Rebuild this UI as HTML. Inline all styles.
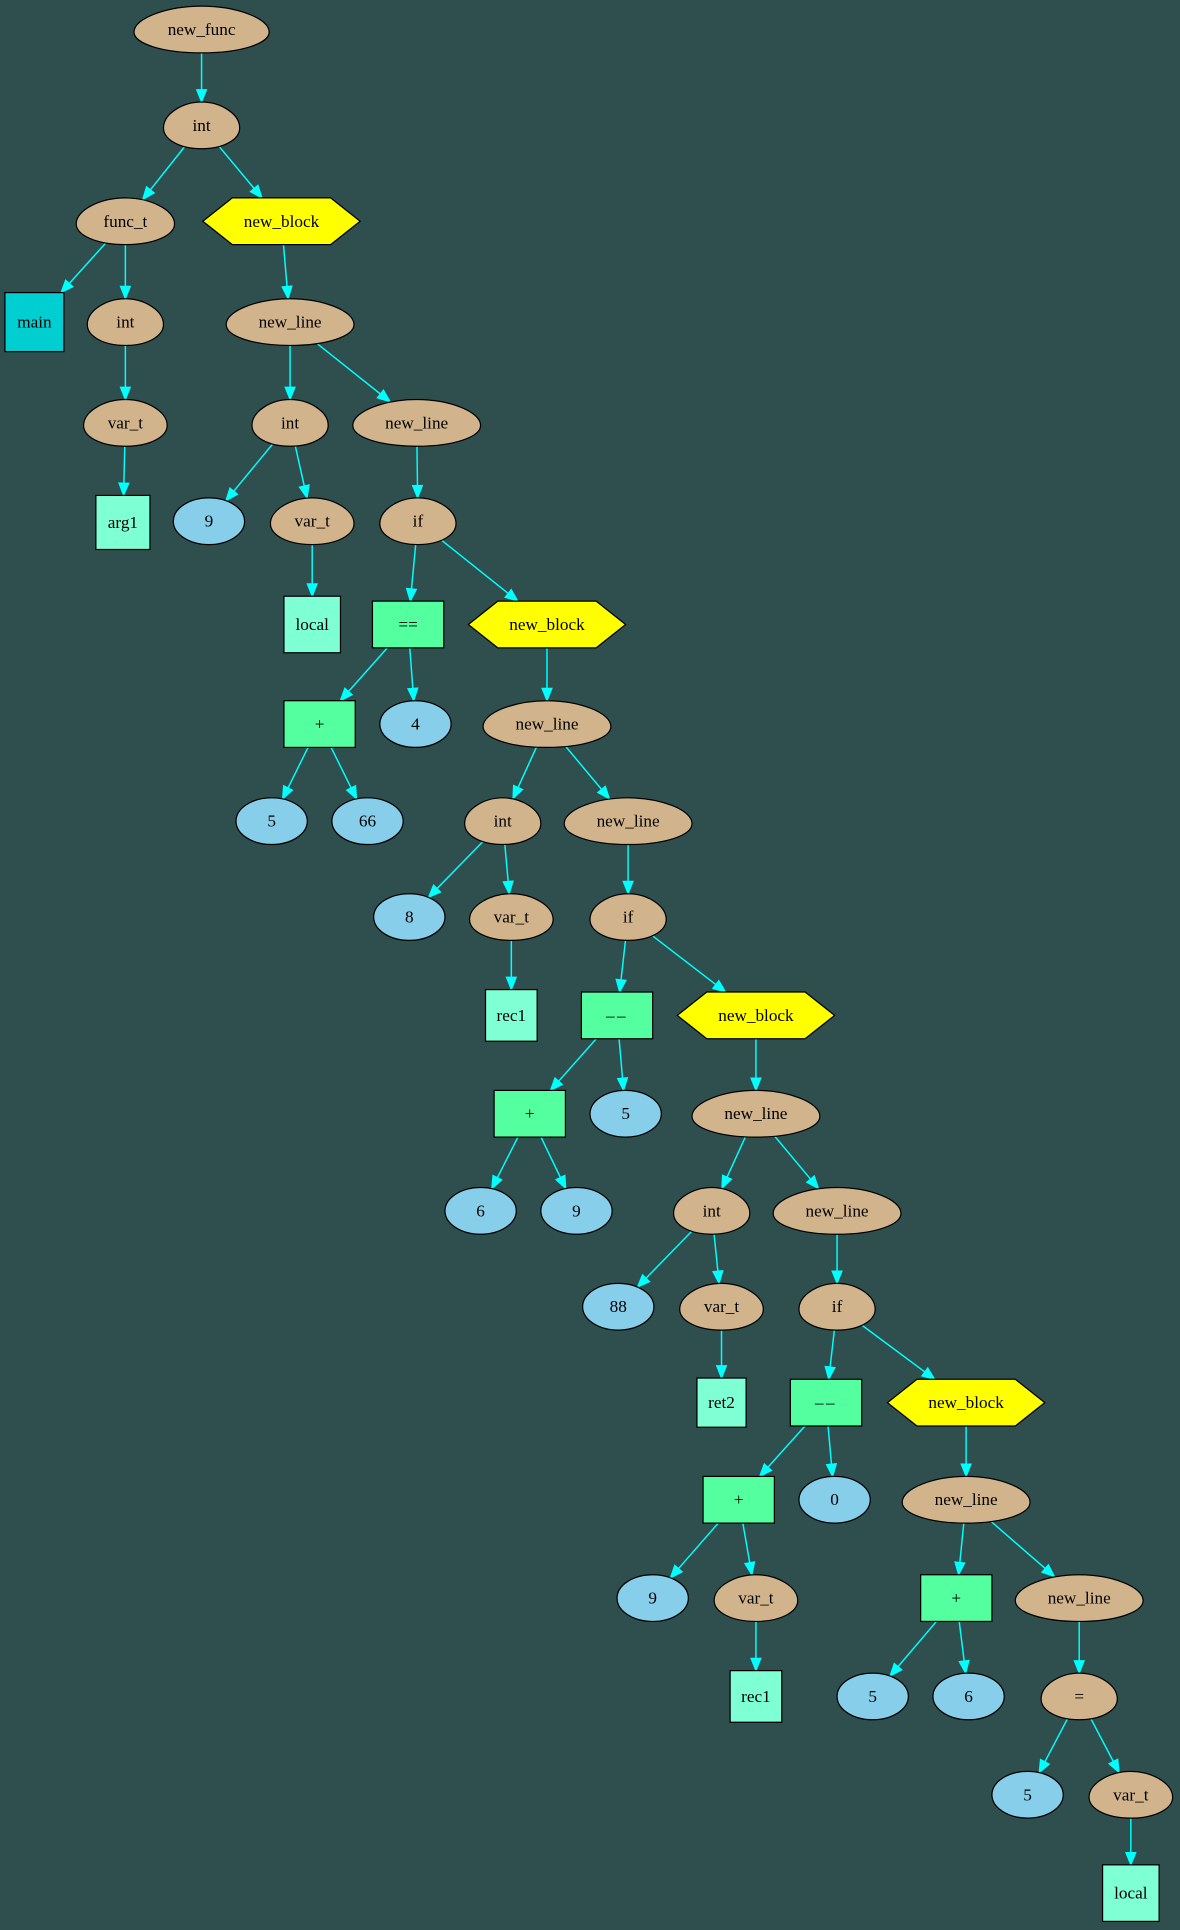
<!DOCTYPE html>
<html><head><meta charset="utf-8"><style>
html,body{margin:0;padding:0;background:#2f4f4f;}
svg{display:block;}
text{font-family:"Liberation Serif",serif;font-size:14px;text-anchor:middle;dominant-baseline:central;fill:#000;}
</style></head><body>
<svg id="g" width="1180" height="1930" viewBox="0 0 960 1570" preserveAspectRatio="none" xmlns="http://www.w3.org/2000/svg">
<rect width="960" height="1570" fill="#2f4f4f"/>
</svg>
<script>
var N={},E=[];
function n(id,t,x,y,l,w,h){N[id]={t:t,x:x,y:y,l:l,w:w,h:h};}
n(1,'e',164,24,'new_func',110,38);
n(2,'e',164,102,'int',62,38);
n(3,'e',102,180,'func_t',80,38);
n(4,'x',229,180,'new_block',128,38);
n(5,'c',28,262,'main',48,48);
n(6,'e',102,262,'int',62,38);
n(7,'e',102,344,'var_t',68,38);
n(8,'r',100,425,'arg1',44,44);
n(9,'e',236,262,'new_line',104,38);
n(10,'e',236,344,'int',62,38);
n(11,'e',339,344,'new_line',104,38);
n(12,'b',170,424,'9',58,38);
n(13,'e',254,424,'var_t',68,38);
n(14,'e',340,424,'if',62,38);
n(15,'r',254,508,'local',46,46);
n(16,'g',332,508,'==',58,38);
n(17,'x',445,508,'new_block',128,38);
n(18,'g',260,589,'+',58,38);
n(19,'b',338,589,'4',58,38);
n(20,'e',445,589,'new_line',104,38);
n(21,'b',221,668,'5',58,38);
n(22,'b',299,668,'66',58,38);
n(23,'e',409,668,'int',62,38);
n(24,'e',511,668,'new_line',104,38);
n(25,'b',333,746,'8',58,38);
n(26,'e',416,746,'var_t',68,38);
n(27,'e',511,746,'if',62,38);
n(28,'r',416,826,'rec1',42,42);
n(29,'g',502,826,'––',58,38);
n(30,'x',615,826,'new_block',128,38);
n(31,'g',431,906,'+',58,38);
n(32,'b',509,906,'5',58,38);
n(33,'e',615,906,'new_line',104,38);
n(34,'b',391,985,'6',58,38);
n(35,'b',469,985,'9',58,38);
n(36,'e',579,985,'int',62,38);
n(37,'e',681,985,'new_line',104,38);
n(38,'b',503,1063,'88',58,38);
n(39,'e',587,1063,'var_t',68,38);
n(40,'e',681,1063,'if',62,38);
n(41,'r',587,1141,'ret2',40,40);
n(42,'g',672,1141,'––',58,38);
n(43,'x',786,1141,'new_block',128,38);
n(44,'g',601,1220,'+',58,38);
n(45,'b',679,1220,'0',58,38);
n(46,'e',786,1220,'new_line',104,38);
n(47,'b',531,1300,'9',58,38);
n(48,'e',615,1300,'var_t',68,38);
n(49,'g',778,1300,'+',58,38);
n(50,'e',878,1300,'new_line',104,38);
n(51,'r',615,1380,'rec1',42,42);
n(52,'b',710,1380,'5',58,38);
n(53,'b',788,1380,'6',58,38);
n(54,'e',878,1380,'=',62,38);
n(55,'b',836,1460,'5',58,38);
n(56,'e',920,1460,'var_t',68,38);
n(57,'r',920,1540,'local',46,46);
E=[[1,2],[2,3],[2,4],[3,5],[3,6],[6,7],[7,8],[4,9],[9,10],[9,11],[10,12],[10,13],[13,15],[11,14],[14,16],[14,17],[16,18],[16,19],[18,21],[18,22],[17,20],[20,23],[20,24],[23,25],[23,26],[26,28],[24,27],[27,29],[27,30],[29,31],[29,32],[31,34],[31,35],[30,33],[33,36],[33,37],[36,38],[36,39],[39,41],[37,40],[40,42],[40,43],[42,44],[42,45],[44,47],[44,48],[48,51],[43,46],[46,49],[46,50],[49,52],[49,53],[50,54],[54,55],[54,56],[56,57]];
var s='';
function clip(o,dx,dy){var L=Math.hypot(dx,dy);var ux=dx/L,uy=dy/L;var rx=o.w/2,ry=o.h/2;
 if(o.t=='e'||o.t=='b'){return 1/Math.sqrt((ux/rx)*(ux/rx)+(uy/ry)*(uy/ry));}
 var a=Math.abs(ux)<1e-6?1e9:rx/Math.abs(ux),b=Math.abs(uy)<1e-6?1e9:ry/Math.abs(uy);return Math.min(a,b);}
E.forEach(function(e){var p=N[e[0]],c=N[e[1]];var dx=c.x-p.x,dy=c.y-p.y,L=Math.hypot(dx,dy),ux=dx/L,uy=dy/L;
 var t0=clip(p,dx,dy),t1=clip(c,-dx,-dy);
 var sx=p.x+ux*t0,sy=p.y+uy*t0,ex=c.x-ux*t1,ey=c.y-uy*t1;
 var bx=ex-ux*10,by=ey-uy*10;
 s+='<line x1="'+sx+'" y1="'+sy+'" x2="'+bx+'" y2="'+by+'" stroke="#00ffff" stroke-width="1.2"/>';
 s+='<polygon points="'+ex+','+ey+' '+(bx-uy*4)+','+(by+ux*4)+' '+(bx+uy*4)+','+(by-ux*4)+'" fill="#00ffff" stroke="#00ffff"/>';});
for(var k in N){var o=N[k],x=o.x,y=o.y,rx=o.w/2,ry=o.h/2;
 if(o.t=='e'){var m=y+2;s+='<path d="M'+(x-rx)+','+m+' C'+(x-rx)+','+(m-ry*0.6)+' '+(x-rx*0.5)+','+(y-ry)+' '+x+','+(y-ry)+' C'+(x+rx*0.5)+','+(y-ry)+' '+(x+rx)+','+(m-ry*0.6)+' '+(x+rx)+','+m+' C'+(x+rx)+','+(m+ry*0.5)+' '+(x+rx*0.58)+','+(y+ry)+' '+x+','+(y+ry)+' C'+(x-rx*0.58)+','+(y+ry)+' '+(x-rx)+','+(m+ry*0.5)+' '+(x-rx)+','+m+'Z" fill="#d2b48c" stroke="#000"/>';}
 else if(o.t=='b'){s+='<ellipse cx="'+x+'" cy="'+y+'" rx="'+rx+'" ry="'+ry+'" fill="#87ceeb" stroke="#000"/>';}
 else if(o.t=='x'){s+='<polygon points="'+(x-rx)+','+y+' '+(x-rx+24)+','+(y-ry)+' '+(x+rx-24)+','+(y-ry)+' '+(x+rx)+','+y+' '+(x+rx-24)+','+(y+ry)+' '+(x-rx+24)+','+(y+ry)+'" fill="#ffff00" stroke="#000"/>';}
 else{var f=o.t=='g'?'#54ff9f':(o.t=='c'?'#00ced1':'#7fffd4');s+='<rect x="'+(x-rx)+'" y="'+(y-ry)+'" width="'+o.w+'" height="'+o.h+'" fill="'+f+'" stroke="#000"/>';}
 s+='<text x="'+x+'" y="'+y+'"'+(o.l=='––'?' style="letter-spacing:2px"':'')+'>'+o.l+'</text>';}
document.getElementById('g').insertAdjacentHTML('beforeend',s);
</script>
</body></html>
